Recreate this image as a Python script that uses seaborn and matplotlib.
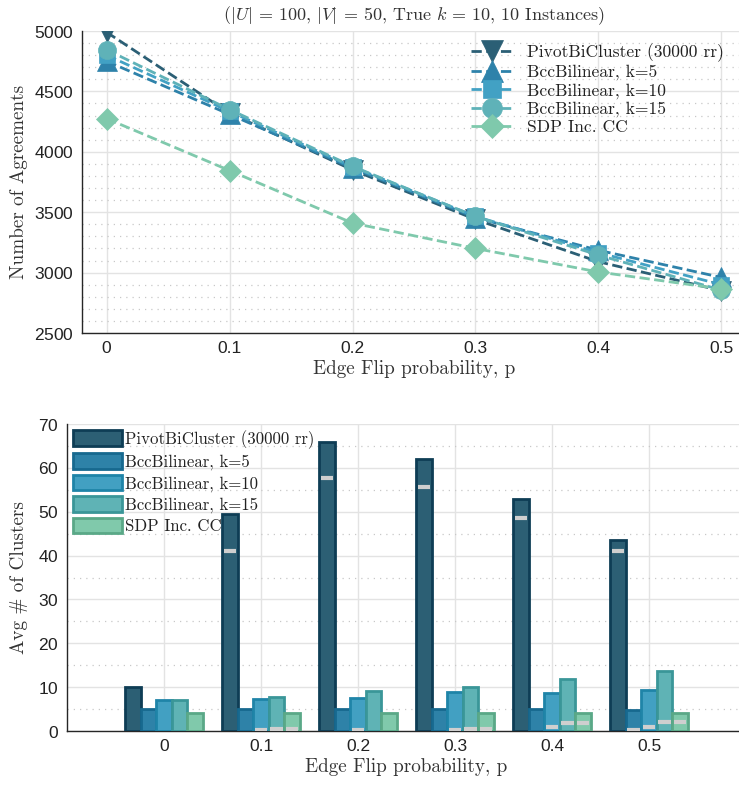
import numpy as np
import pandas as pd
import matplotlib
matplotlib.use("Agg")
import matplotlib.pyplot as plt
from matplotlib.ticker import MultipleLocator
import seaborn as sns

# ---- data -----------------------------------------------------------------
flip_p = [0, 0.1, 0.2, 0.3, 0.4, 0.5]
flip_labels = ["0", "0.1", "0.2", "0.3", "0.4", "0.5"]
methods = ["PivotBiCluster (30000 rr)", "BccBilinear, k=5", "BccBilinear, k=10",
           "BccBilinear, k=15", "SDP Inc. CC"]

agree_pivot = [4990, 4320, 3850, 3440, 3090, 2850]
agree_k5 = [4750, 4310, 3865, 3455, 3185, 2960]
agree_k10 = [4800, 4335, 3875, 3465, 3165, 2900]
agree_k15 = [4845, 4350, 3880, 3465, 3145, 2855]
agree_sdp = [4275, 3845, 3410, 3200, 3005, 2865]

clusters_pivot = [10.0, 49.5, 65.8, 62.1, 52.8, 43.6]
clusters_k5 = [5.0, 5.0, 5.0, 5.0, 5.0, 4.9]
clusters_k10 = [7.0, 7.3, 7.6, 8.9, 8.6, 9.4]
clusters_k15 = [7.0, 7.8, 9.1, 10.0, 11.8, 13.7]
clusters_sdp = [4.0, 4.0, 4.0, 4.0, 4.0, 4.0]

# light-grey tick marks drawn inside the bars
inner_pivot = [np.nan, 41.0, 57.8, 55.6, 48.6, 41.0]
inner_k5 = [np.nan, np.nan, np.nan, np.nan, np.nan, 0.15]
inner_k10 = [np.nan, 0.15, 0.2, 0.15, 1.0, 1.0]
inner_k15 = [np.nan, 0.5, np.nan, 0.5, 1.75, 2.0]
inner_sdp = [np.nan, 0.5, np.nan, 0.5, 1.75, 2.0]

line_colors = ["#2b5f75", "#2e82aa", "#42a1c4", "#5fb2b8", "#7fc9ac"]
bar_fill = ["#2c5f74", "#2e82a8", "#42a0c2", "#5fb3b5", "#80c9ab"]
bar_edge = ["#0e3d55", "#17698f", "#1f84a8", "#3a9698", "#5aa887"]
markers = ["v", "^", "s", "o", "D"]
marker_sizes = [14, 14, 11.5, 13, 11]

# ---- style ----------------------------------------------------------------
sns.set_theme(style="white")
plt.rcParams["font.family"] = ["cmr10", "DejaVu Serif"]
plt.rcParams["mathtext.fontset"] = "cm"
plt.rcParams["axes.unicode_minus"] = False
plt.rcParams["axes.formatter.use_mathtext"] = True

tick_font = {"family": "Liberation Sans", "size": 12.5}
text_color = "#333333"
label_size = 13.8

fig = plt.figure(figsize=(7.39, 7.85), dpi=100)
ax1 = fig.add_axes([82 / 739, 1 - 333 / 785, (746 - 82) / 739, (333 - 31) / 785])
ax2 = fig.add_axes([67 / 739, 1 - 731 / 785, (746 - 67) / 739, (731 - 424) / 785])


def style_axes(ax):
    for side in ["top", "right"]:
        ax.spines[side].set_visible(False)
    for side in ["left", "bottom"]:
        ax.spines[side].set_color("#262626")
        ax.spines[side].set_linewidth(1.0)
    ax.set_axisbelow(True)
    ax.grid(True, which="major", color="#e3e3e3", linewidth=1.0, linestyle="-")
    ax.tick_params(axis="both", which="major", direction="in", length=5,
                   width=1.0, color="#262626", pad=6, labelcolor="#222222")
    ax.tick_params(axis="both", which="minor", length=0)
    for lab in ax.get_xticklabels() + ax.get_yticklabels():
        lab.set_fontfamily(tick_font["family"])
        lab.set_fontsize(tick_font["size"])


# ---- top: number of agreements ------------------------------------------
agree_df = pd.DataFrame({
    "p": flip_p * 5,
    "agreements": agree_pivot + agree_k5 + agree_k10 + agree_k15 + agree_sdp,
    "method": np.repeat(methods, len(flip_p)),
})

for i, m in enumerate(methods):
    sub = agree_df[agree_df["method"] == m]
    sns.lineplot(data=sub, x="p", y="agreements", ax=ax1, color=line_colors[i],
                 marker=markers[i], markersize=marker_sizes[i],
                 markeredgecolor=line_colors[i], markeredgewidth=0.5,
                 linewidth=2.0, dashes=(5.5, 3.2), linestyle="--", label=m,
                 zorder=3 + i)

ax1.set_xlim(-0.02, 0.52)
ax1.set_ylim(2500, 5000)
ax1.set_xticks(flip_p)
ax1.set_xticklabels(flip_labels)
ax1.set_yticks(range(2500, 5001, 500))
ax1.yaxis.set_minor_locator(MultipleLocator(100))
ax1.grid(True, which="minor", axis="y", color="#c8c8c8", linewidth=0.9,
         linestyle=(0, (1, 4)))
style_axes(ax1)
ax1.set_xlabel("Edge Flip probability, p", fontsize=label_size, color=text_color,
               labelpad=3)
ax1.set_ylabel("Number of Agreements", fontsize=label_size, color=text_color,
               labelpad=4)
ax1.set_title(r"($|U|$ = 100, $|V|$ = 50, True $k$ = 10, 10 Instances)",
              fontsize=13, color=text_color, pad=8)
leg1 = ax1.legend(loc="upper right", bbox_to_anchor=(0.985, 1.0), frameon=False,
                  fontsize=12.6, handlelength=2.4, handletextpad=0.8,
                  labelspacing=0.15, borderaxespad=0.3, markerscale=1.1)
for t in leg1.get_texts():
    t.set_color("#222222")

# ---- bottom: average number of clusters ----------------------------------
clusters_df = pd.DataFrame({
    "p": flip_labels * 5,
    "clusters": clusters_pivot + clusters_k5 + clusters_k10 + clusters_k15 + clusters_sdp,
    "method": np.repeat(methods, len(flip_p)),
})
sns.barplot(data=clusters_df, x="p", y="clusters", hue="method", order=flip_labels,
            hue_order=methods, palette=bar_fill, ax=ax2, width=0.8,
            linewidth=2.0, saturation=1, errorbar=None, zorder=3)

inner = [inner_pivot, inner_k5, inner_k10, inner_k15, inner_sdp]
for i, cont in enumerate(ax2.containers):
    for j, bar in enumerate(cont.patches):
        bar.set_edgecolor(bar_edge[i])
        bar.set_facecolor(bar_fill[i])
        v = inner[i][j]
        if not np.isnan(v):
            x0 = bar.get_x() + bar.get_width() * 0.1
            x1 = bar.get_x() + bar.get_width() * 0.9
            ax2.hlines(v, x0, x1, color="#cfcfcf", linewidth=3.0, zorder=5)

ax2.set_xlim(-1.0, 6.0)
ax2.set_ylim(0, 70)
ax2.set_yticks(range(0, 71, 10))
ax2.yaxis.set_minor_locator(MultipleLocator(5))
ax2.grid(True, which="minor", axis="y", color="#c8c8c8", linewidth=0.9,
         linestyle=(0, (1, 4)))
style_axes(ax2)
ax2.set_xlabel("Edge Flip probability, p", fontsize=label_size, color=text_color,
               labelpad=3)
ax2.set_ylabel("Avg # of Clusters", fontsize=label_size, color=text_color,
               labelpad=7)
leg2 = ax2.legend(loc="upper left", bbox_to_anchor=(0.0, 1.0), frameon=False,
                  fontsize=12.1, handlelength=2.9, handleheight=1.05,
                  handletextpad=0.2, labelspacing=0.27, borderaxespad=0.2,
                  borderpad=0.15)
for i, h in enumerate(leg2.legend_handles):
    h.set_facecolor(bar_fill[i])
    h.set_edgecolor(bar_edge[i])
    h.set_linewidth(2.0)
for t in leg2.get_texts():
    t.set_color("#222222")

fig.savefig("out.png", dpi=100)
